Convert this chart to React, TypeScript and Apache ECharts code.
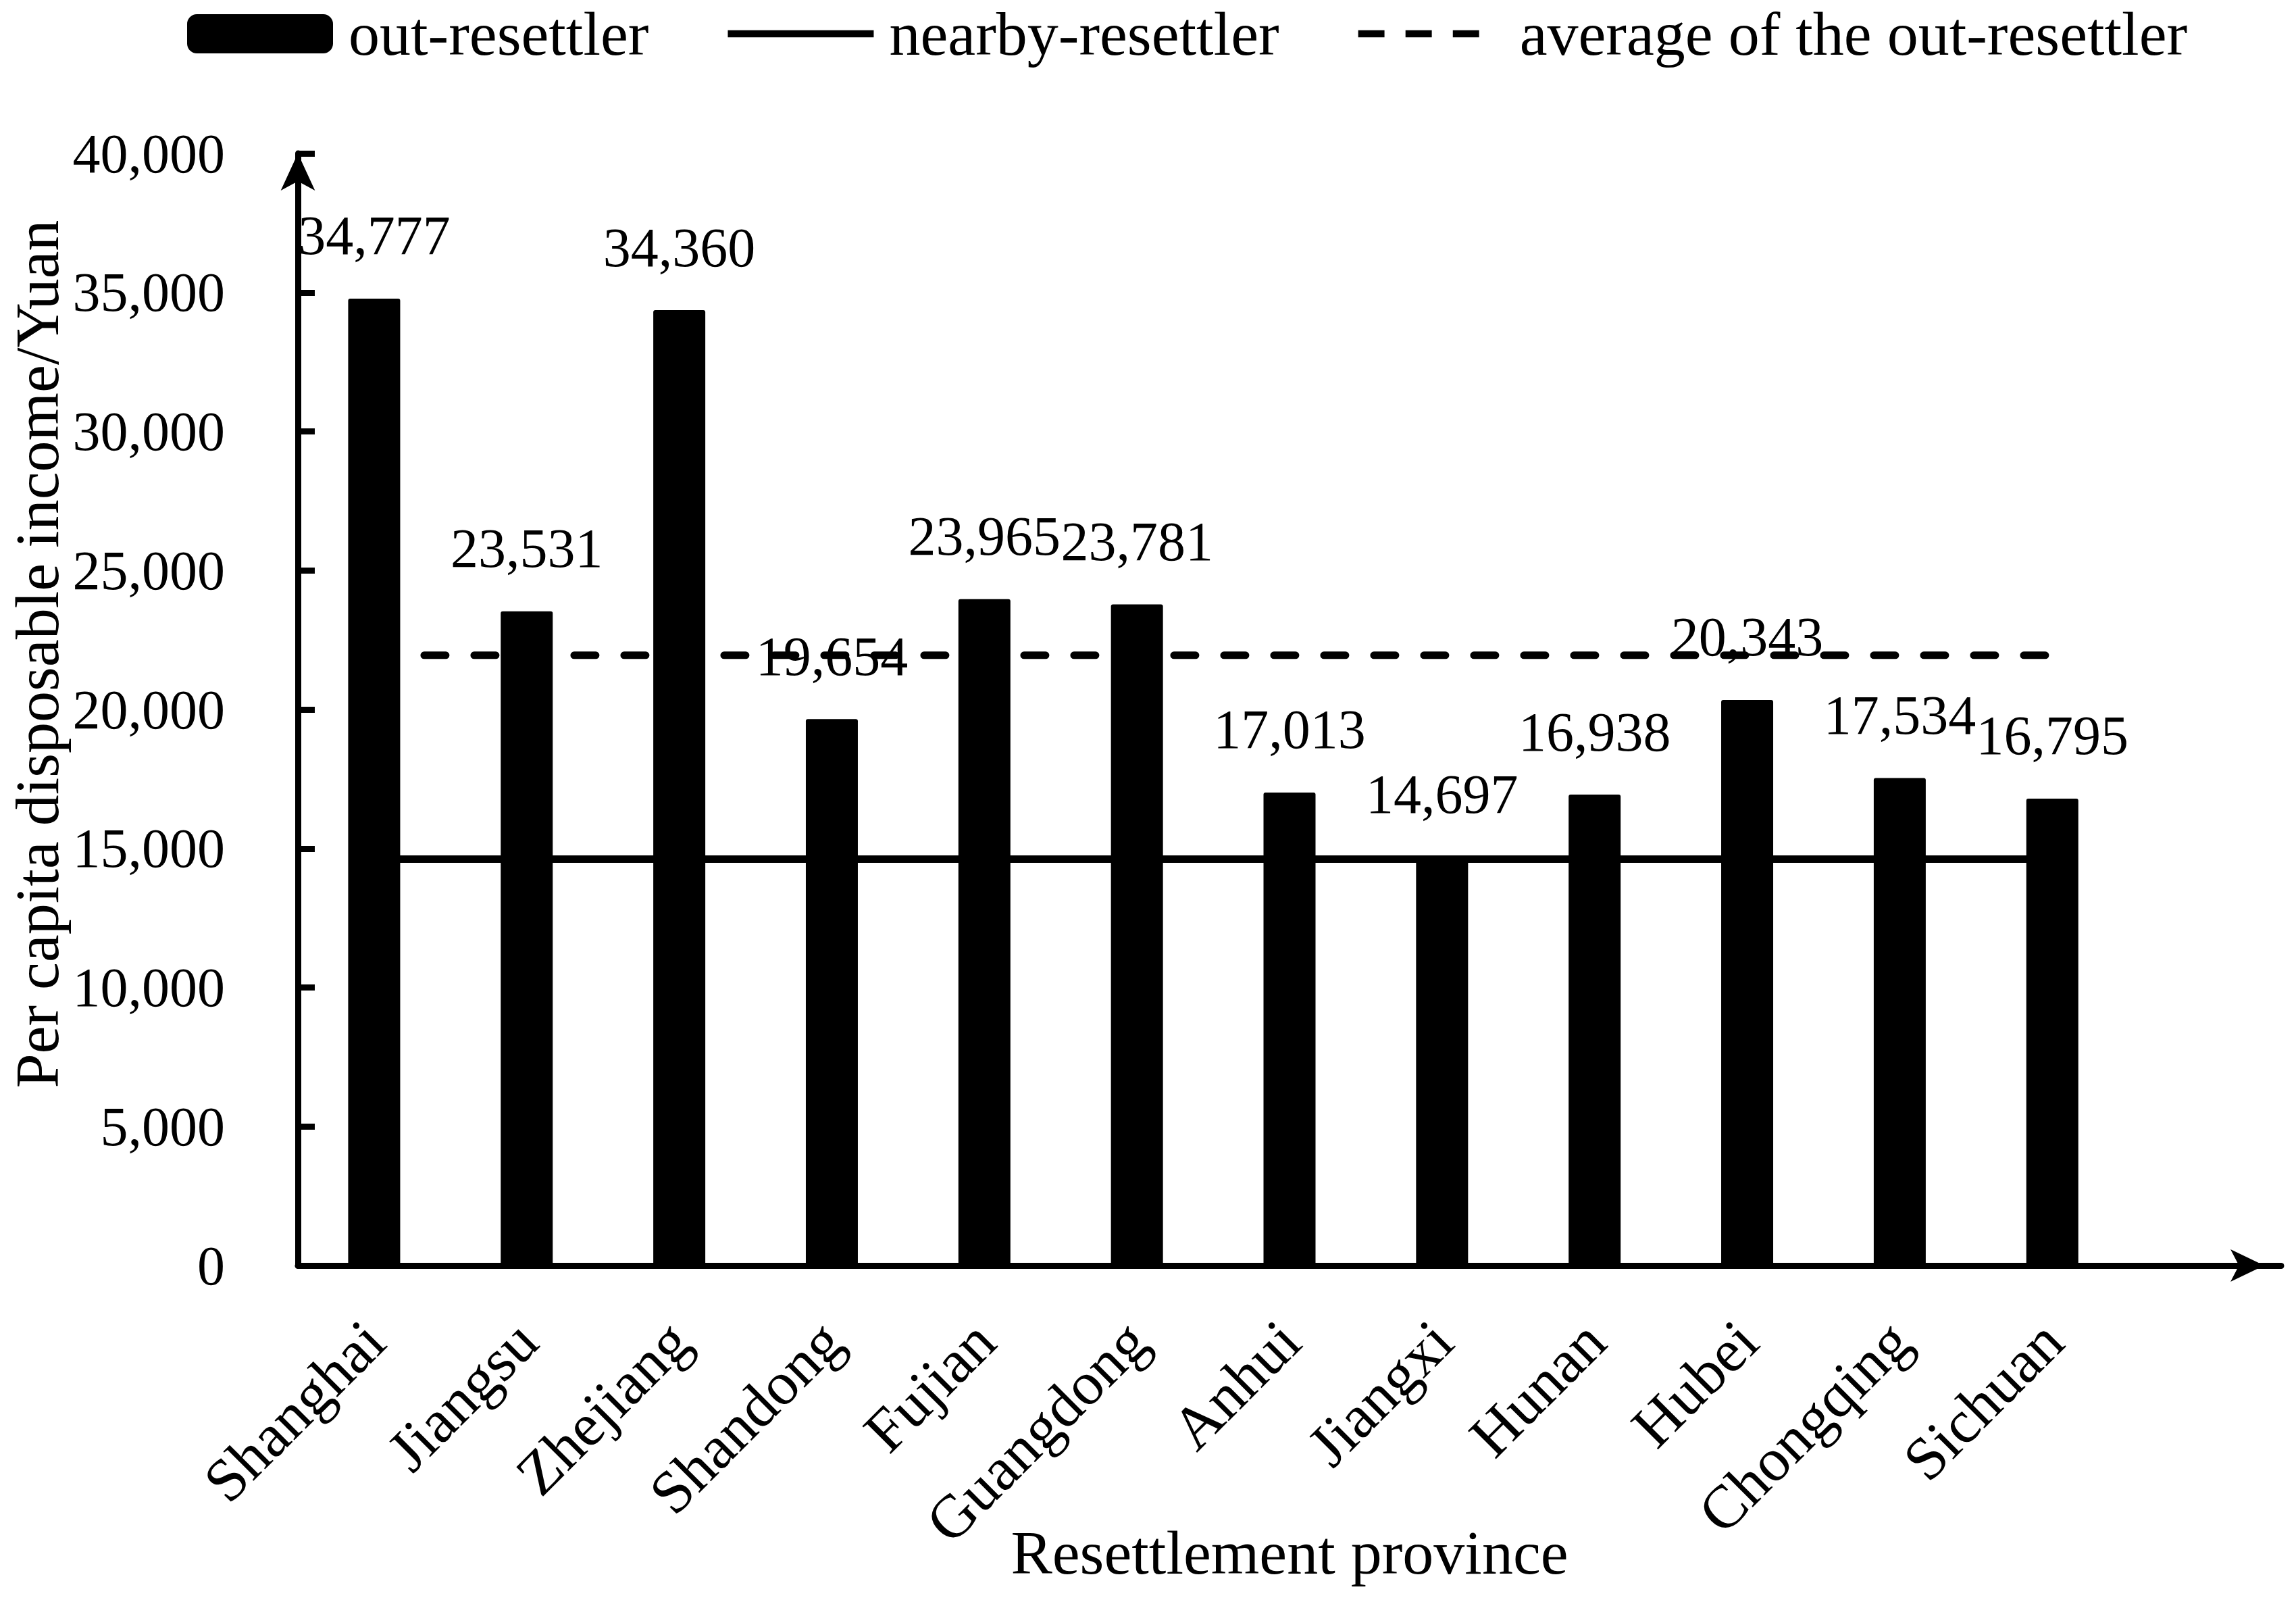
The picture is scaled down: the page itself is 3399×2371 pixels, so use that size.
import React, { useEffect, useRef } from "react";
import * as echarts from "echarts";

const categories = [
  "Shanghai", "Jiangsu", "Zhejiang", "Shandong", "Fujian", "Guangdong",
  "Anhui", "Jiangxi", "Hunan", "Hubei", "Chongqing", "Sichuan",
];
const outResettler = [34777, 23531, 34360, 19654, 23965, 23781, 17013, 14697, 16938, 20343, 17534, 16795];
const nearbyResettler = [14616, 14616, 14616, 14616, 14616, 14616, 14616, 14616, 14616, 14616, 14616, 14616];
const outAverage = [21949, 21949, 21949, 21949, 21949, 21949, 21949, 21949, 21949, 21949, 21949, 21949];
const seriesNames = ["out-resettler", "nearby-resettler", "average of the out-resettler"];
const yMin = 0;
const yMax = 40000;
const yInterval = 5000;

const FONT = "Liberation Serif";
const fmt = (v: number) => Number(v).toLocaleString("en-US");

export default function App() {
  const ref = useRef<HTMLDivElement>(null);
  useEffect(() => {
    if (!ref.current) return;
    const chart = echarts.init(ref.current, null, { renderer: "svg" });
    const option: any = {
      animation: false,
      backgroundColor: "#fff",
      textStyle: { fontFamily: FONT, color: "#000" },
      legend: {
        left: 277,
        top: 4,
        padding: 0,
        itemWidth: 216,
        itemHeight: 58,
        itemGap: 117,
        textStyle: {
          fontFamily: FONT,
          fontSize: 92,
          lineHeight: 80,
          color: "#000",
          padding: [0, 0, 0, 18],
        },
        data: [
          { name: seriesNames[0], icon: "roundRect" },
          { name: seriesNames[1], icon: "path://M0,0h222v11h-222z" },
          {
            name: seriesNames[2],
            icon: "path://M0,0h40v11h-40z M72,0h40v11h-40z M144,0h40v11h-40z M221.9,5h0.1v0.1h-0.1z",
          },
        ],
      },
      grid: {
        left: 441,
        right: 22,
        top: 227,
        bottom: 498,
        containLabel: false,
        outerBoundsMode: "none",
      },
      xAxis: {
        type: "category",
        data: [...categories, ""],
        boundaryGap: true,
        name: "Resettlement province",
        nameLocation: "middle",
        nameGap: 379,
        nameMoveOverlap: false,
        nameTextStyle: { fontFamily: FONT, fontSize: 92, color: "#000" },
        axisLine: {
          show: true,
          symbol: ["none", "arrow"],
          symbolSize: [36, 50],
          symbolOffset: [0, -25],
          lineStyle: { color: "#000", width: 9 },
        },
        axisTick: { show: false },
        axisLabel: {
          interval: 0,
          rotate: 45,
          margin: 97,
          fontFamily: FONT,
          fontSize: 90,
          color: "#000",
        },
        splitLine: { show: false },
      },
      yAxis: {
        type: "value",
        min: yMin,
        max: yMax,
        interval: yInterval,
        name: "Per capita disposable income/Yuan",
        nameLocation: "middle",
        nameGap: 340,
        nameMoveOverlap: false,
        nameTextStyle: { fontFamily: FONT, fontSize: 92, color: "#000", padding: [0, 0, 0, 164] },
        axisLine: {
          show: true,
          symbol: ["none", "arrow"],
          symbolSize: [38, 55],
          symbolOffset: [0, 0],
          lineStyle: { color: "#000", width: 9 },
        },
        axisTick: { show: true, inside: true, length: 25, lineStyle: { color: "#000", width: 9 } },
        axisLabel: {
          margin: 108,
          fontFamily: FONT,
          fontSize: 82,
          color: "#000",
          formatter: (v: number) => fmt(v),
        },
        splitLine: { show: false },
      },
      series: [
        {
          name: seriesNames[0],
          type: "bar",
          data: outResettler,
          barWidth: 77,
          z: 3,
          itemStyle: { color: "#000", borderRadius: [3, 3, 0, 0] },
          label: {
            show: true,
            position: "top",
            distance: 52,
            fontFamily: FONT,
            fontSize: 82,
            color: "#000",
            formatter: (p: any) => fmt(p.value),
          },
        },
        {
          name: seriesNames[1],
          type: "line",
          data: nearbyResettler,
          symbol: "none",
          z: 2,
          itemStyle: { color: "#000" },
          lineStyle: { color: "#000", width: 11, type: "solid" },
        },
        {
          name: seriesNames[2],
          type: "line",
          data: outAverage,
          symbol: "none",
          z: 2,
          itemStyle: { color: "#000" },
          lineStyle: { color: "#000", width: 11, type: [32, 42], cap: "round" },
        },
      ],
    };
    chart.setOption(option);
    return () => chart.dispose();
  }, []);
  return (
    <div
      ref={ref}
      style={{ position: "absolute", left: 0, top: 0, width: 3399, height: 2371 }}
    />
  );
}
